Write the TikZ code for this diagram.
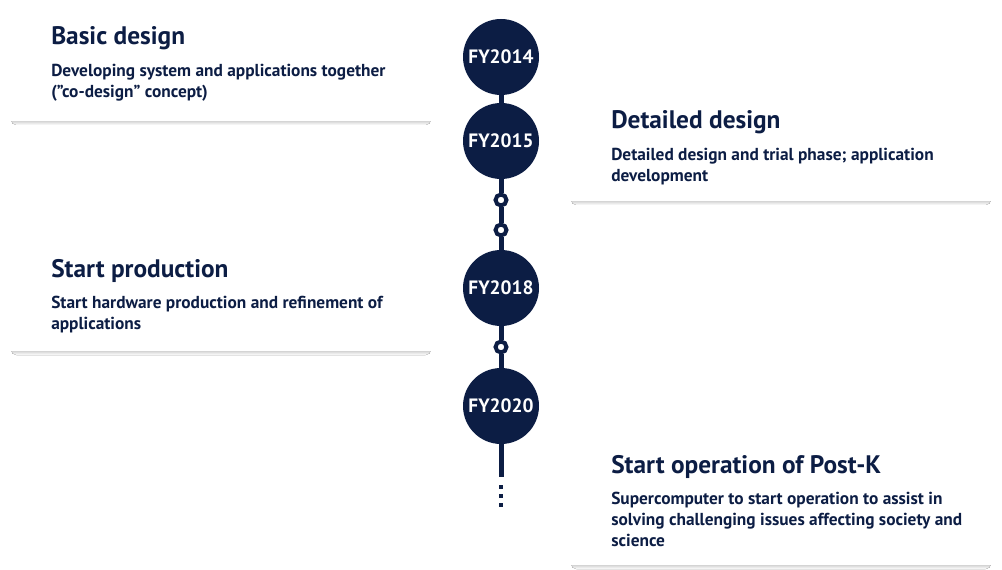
\documentclass[tikz,border=0pt]{standalone}
\usepackage{fontspec}
\setmainfont{PT Sans}
\usetikzlibrary{positioning}
\definecolor{navy}{HTML}{0C1D44}
\definecolor{shade}{HTML}{D5DFE8}

\begin{document}
\begin{tikzpicture}[x=0.75pt, y=-0.75pt,
  year/.style={circle, fill=navy, minimum size=57pt, inner sep=0pt, text=white, font=\bfseries\fontsize{14.5}{16}\selectfont},
  ring/.style={circle, draw=navy, line width=3pt, fill=white, minimum size=8.2pt, inner sep=0pt},
  heading/.style={anchor=base west, inner sep=0pt, text=navy, font=\bfseries\fontsize{19}{22}\selectfont},
  body/.style={inner sep=0pt, text=navy, align=left, font=\bfseries\fontsize{13}{16}\selectfont},
  spine/.style={draw=navy, line width=3.75pt}]
\useasboundingbox (0,0) rectangle (1002,570);

% card shadows
\foreach \l/\b in {11/125, 571/205, 11/355, 571/569} {
  \fill[shade, rounded corners=4pt] (\l,{\b-12}) rectangle ({\l+420},\b);
  \fill[white] ({\l-1},{\b-14}) rectangle ({\l+421},{\b-4});
}

% timeline
\node[year] (fy14) at (501,57) {FY2014};
\node[year] (fy15) at (501,141) {FY2015};
\node[ring] (r1) at (501,200) {};
\node[ring] (r2) at (501,230) {};
\node[year] (fy18) at (501,288) {FY2018};
\node[ring] (r3) at (501,347) {};
\node[year] (fy20) at (501,406) {FY2020};
\coordinate (tail) at (501,477);
\coordinate (dots) at (501,485);
\coordinate (dotsend) at (501,507);
\draw[spine] (fy14) -- (fy15) -- (r1) -- (r2) -- (fy18) -- (r3) -- (fy20) -- (tail);
\draw[navy, line width=3pt, dash pattern=on 3pt off 3.75pt] (dots) -- (dotsend);

% texts
\node[heading] (t14) at (51,45) {Basic design};
\node[body, below right=10pt and 0pt of t14.south west] (d14) {Developing system and applications together\\(”co-design” concept)};
\node[heading] (t15) at (611,129) {Detailed design};
\node[body, below right=10pt and 0pt of t15.south west] (d15) {Detailed design and trial phase; application\\development};
\node[heading] (t18) at (51,277) {Start production};
\node[body, below right=10pt and 0pt of t18.south west] (d18) {Start hardware production and refinement of\\applications};
\node[heading] (t20) at (611,473) {Start operation of Post-K};
\node[body, below right=10pt and 0pt of t20.south west] (d20) {Supercomputer to start operation to assist in\\solving challenging issues affecting society and\\science};
\end{tikzpicture}
\end{document}
